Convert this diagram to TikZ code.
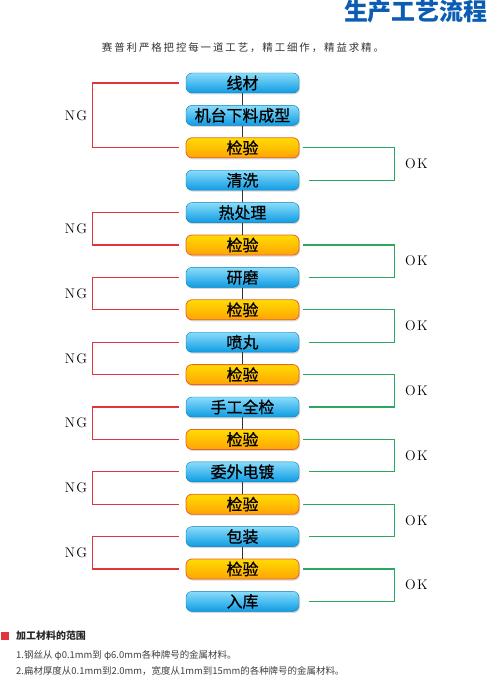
\documentclass[tikz,border=0pt]{standalone}
\usepackage{fontspec}
\usetikzlibrary{shadows}
\newfontfamily\cjk{Noto Sans CJK SC}
\newfontfamily\cjkbox[FakeBold=0.8]{Noto Sans CJK SC}
\newfontfamily\cjkwide[LetterSpace=18]{Noto Sans CJK SC}

\definecolor{boxtop}{HTML}{8ADCFA}
\definecolor{boxbot}{HTML}{0E9CE4}
\definecolor{chktop}{HTML}{FFDC00}
\definecolor{chkbot}{HTML}{FFA406}
\definecolor{chkrim}{HTML}{E8642A}
\definecolor{ngred}{HTML}{E2343C}
\definecolor{okgreen}{HTML}{2BA860}
\definecolor{titleblue}{HTML}{0B5DB3}

\tikzset{
  stepbase/.style={rounded corners=6bp, minimum width=113bp, minimum height=20bp,
    inner sep=0pt, font=\cjkbox\fontsize{16}{16}\selectfont,
    drop shadow={shadow xshift=1bp, shadow yshift=-1.5bp, fill=black!30}},
  procbox/.style={stepbase, top color=boxtop, bottom color=boxbot, draw=boxbot!80!black, line width=0.4bp},
  checkbox/.style={stepbase, top color=chktop, bottom color=chkbot, draw=chkrim, line width=0.8bp},
  linkline/.style={draw=black!80, line width=1.2bp},
  ngline/.style={draw=ngred, line width=1.2bp},
  okline/.style={draw=okgreen, line width=1.2bp},
  verdict/.style={inner sep=0pt, font=\fontsize{14}{14}\selectfont}
}

\begin{document}
\begin{tikzpicture}[x=1bp, y=-1bp]
  \useasboundingbox (0,0) rectangle (492,675);

  % titel
  \node[anchor=east, text=titleblue, font=\cjk\bfseries\fontsize{24}{24}\selectfont] (title) at (491,12) {生产工艺流程};
  \node[text=black!80, font=\cjkwide\fontsize{10.5}{10.5}\selectfont] (motto) at (243,48) {赛普利严格把控每一道工艺，精工细作，精益求精。};

  % procesy
  \foreach \n/\y/\t in {s1/83/线材, s2/115.4/机台下料成型, s4/180.2/清洗, s5/212.6/热处理,
      s7/277.4/研磨, s9/342.2/喷丸, s11/407/手工全检, s13/471.8/委外电镀,
      s15/536.6/包装, s17/601.4/入库}
    \node[procbox] (\n) at (242.5,\y) {\t};

  % kontroly
  \foreach \n/\y in {c1/147.8, c2/245, c3/309.8, c4/374.6, c5/439.4, c6/504.2, c7/569}
    \node[checkbox] (\n) at (242.5,\y) {检验};

  % spojnice
  \foreach \a/\b in {s1/s2, s2/c1, s4/s5, s5/c2, s7/c3, s9/c4, s11/c5, s13/c6, s15/c7}
    \draw[linkline] (\a.south) -- (\b.north);

  % NG - navrat
  \foreach \s/\e in {s1/c1, s5/c2, s7/c3, s9/c4, s11/c5, s13/c6, s15/c7}
    \draw[ngline] ([xshift=-7bp]\s.west) -- ++(-86,0)
      |- node[verdict, pos=0.25, left=5bp] {N\kern1.5bp G} ([xshift=-7bp]\e.west);

  % OK - dalej
  \foreach \s/\e in {c1/s4, c2/s7, c3/s9, c4/s11, c5/s13, c6/s15, c7/s17}
    \draw[okline] ([xshift=4bp]\s.east) -- ++(91,0)
      |- node[verdict, pos=0.25, right=10bp] {O\kern1.5bp K} ([xshift=10bp]\e.east);

  % rozsah materialov
  \fill[ngred] (1,632) rectangle (9,640);
  \node[anchor=west, inner sep=0pt, text=black!85, font=\cjk\bfseries\fontsize{10}{10}\selectfont] (range) at (16,636) {加工材料的范围};
  \node[anchor=west, inner sep=0pt, text=black!75, font=\cjk\fontsize{9.5}{9.5}\selectfont] (item1) at (16,655) {1.钢丝从 φ0.1mm到 φ6.0mm各种牌号的金属材料。};
  \node[anchor=west, inner sep=0pt, text=black!75, font=\cjk\fontsize{9.5}{9.5}\selectfont] (item2) at (16,671) {2.扁材厚度从0.1mm到2.0mm，宽度从1mm到15mm的各种牌号的金属材料。};

\end{tikzpicture}
\end{document}
